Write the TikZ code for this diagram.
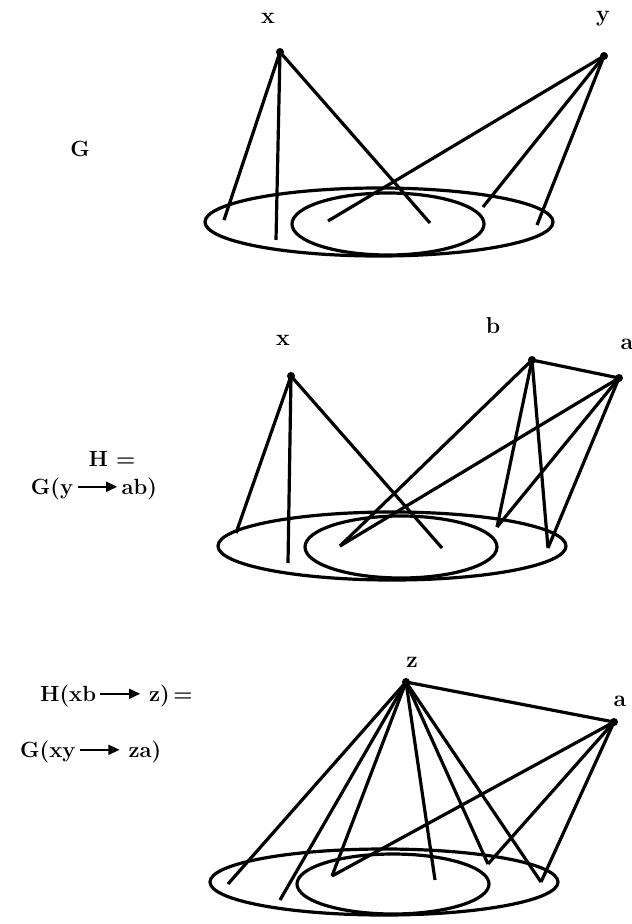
\documentclass[tikz,border=0pt]{standalone}
\usetikzlibrary{arrows.meta}
\tikzset{
  edge/.style={line width=3.2pt},
  ell/.style={line width=3.2pt},
  vtx/.style={circle, fill, inner sep=0pt, minimum size=8pt},
  vlabel/.style={font=\fontsize{23}{26}\selectfont\bfseries, inner sep=0pt},
  txt/.style={font=\fontsize{22}{26}\selectfont\bfseries, inner sep=0pt},
}
\newcommand{\myarrow}{\tikz[baseline=-0.1em]\draw[line width=1.6pt,-{Triangle[length=11pt,width=10pt]}] (0,0.25em)--(1.8em,0.25em);}
\begin{document}
\begin{tikzpicture}[x=1pt,y=-1pt]
\useasboundingbox (0,0) rectangle (632,924);

% ---------- Panel 1 ----------
\node[txt] (G) at (80,149) {G};
\node[vtx] (x1) at (280,52) {};
\node[vtx] (y1) at (604,56) {};
\node[vlabel] (lx1) at (268,18) {x};
\node[vlabel] (ly1) at (603,19) {y};
\draw[ell] (379,222) ellipse [x radius=174pt, y radius=34pt];
\draw[ell] (388,224) ellipse [x radius=96pt, y radius=31pt];
\coordinate (p1a) at (224,220);
\coordinate (p1b) at (276,240);
\coordinate (p1c) at (430,223);
\coordinate (p1d) at (328,221);
\coordinate (p1e) at (483,207);
\coordinate (p1f) at (537,225);
\draw[edge] (x1.center) -- (p1a);
\draw[edge] (x1.center) -- (p1b);
\draw[edge] (x1.center) -- (p1c);
\draw[edge] (y1.center) -- (p1d);
\draw[edge] (y1.center) -- (p1e);
\draw[edge] (y1.center) -- (p1f);

% ---------- Panel 2 ----------
\node[txt] (H1) at (112,459) {H =};
\node[txt] (H2) at (94,489) {G(y\,\myarrow\,ab)};
\node[vtx] (x2) at (291,376) {};
\node[vtx] (b2) at (532,360) {};
\node[vtx] (a2) at (619,378) {};
\node[vlabel] (lx2) at (283,340) {x};
\node[vlabel] (lb2) at (493,326) {b};
\node[vlabel] (la2) at (627,344) {a};
\draw[ell] (392,546) ellipse [x radius=174pt, y radius=34pt];
\draw[ell] (401,547) ellipse [x radius=96pt, y radius=31pt];
\coordinate (p2a) at (236,533);
\coordinate (p2b) at (288,563);
\coordinate (p2c) at (442,548);
\coordinate (p2d) at (340,546);
\coordinate (p2e) at (497,527);
\coordinate (p2f) at (548,548);
\draw[edge] (x2.center) -- (p2a);
\draw[edge] (x2.center) -- (p2b);
\draw[edge] (x2.center) -- (p2c);
\draw[edge] (b2.center) -- (p2d);
\draw[edge] (b2.center) -- (p2e);
\draw[edge] (b2.center) -- (p2f);
\draw[edge] (a2.center) -- (p2d);
\draw[edge] (a2.center) -- (p2e);
\draw[edge] (a2.center) -- (p2f);
\draw[edge] (b2.center) -- (a2.center);

% ---------- Panel 3 ----------
\node[txt, anchor=west] (K1) at (40,696) {H(xb\,\myarrow\ z)\,=};
\node[txt, anchor=west] (K2) at (20,752) {G(xy\,\myarrow\ za)};
\node[vtx] (z3) at (406,682) {};
\node[vtx] (a3) at (614,722) {};
\node[vlabel] (lz3) at (412,662) {z};
\node[vlabel] (la3) at (620,701) {a};
\draw[ell] (384,882) ellipse [x radius=174pt, y radius=33pt];
\draw[ell] (393,884) ellipse [x radius=96pt, y radius=30pt];
\coordinate (p3a) at (228,884);
\coordinate (p3b) at (280,900);
\coordinate (p3c) at (435,880);
\coordinate (p3d) at (332,876);
\coordinate (p3e) at (488,864);
\coordinate (p3f) at (541,882);
\draw[edge] (z3.center) -- (p3a);
\draw[edge] (z3.center) -- (p3b);
\draw[edge] (z3.center) -- (p3c);
\draw[edge] (z3.center) -- (p3d);
\draw[edge] (z3.center) -- (p3e);
\draw[edge] (z3.center) -- (p3f);
\draw[edge] (a3.center) -- (p3d);
\draw[edge] (a3.center) -- (p3e);
\draw[edge] (a3.center) -- (p3f);
\draw[edge] (z3.center) -- (a3.center);
\end{tikzpicture}
\end{document}
